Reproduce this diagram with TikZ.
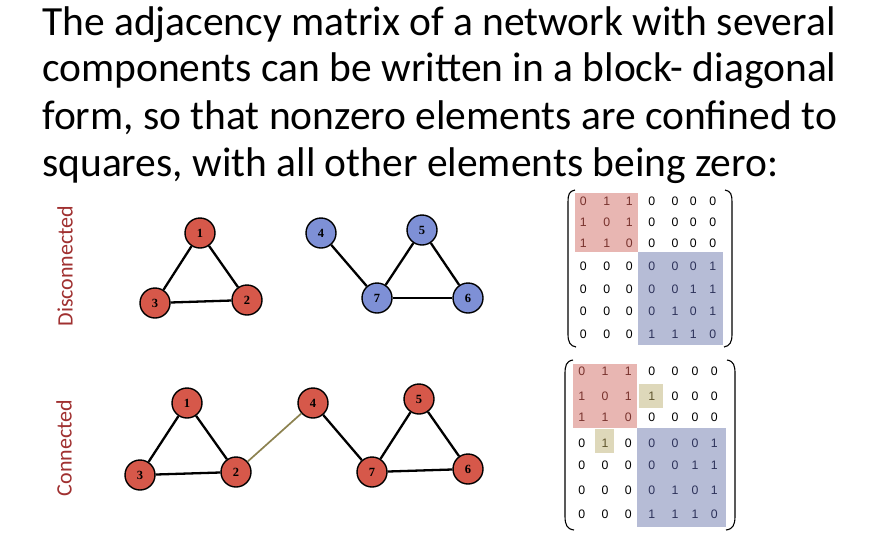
\documentclass[tikz,border=0pt]{standalone}
\usepackage{fontspec}
\setmainfont{Carlito}
\newfontfamily\numfont{Liberation Sans}
\newfontfamily\lblfont{Liberation Serif}
\definecolor{nodered}{RGB}{214,88,74}
\definecolor{nodeblue}{RGB}{126,144,214}
\definecolor{lblred}{RGB}{160,48,48}
\definecolor{blkred}{RGB}{232,182,178}
\definecolor{blkblue}{RGB}{182,188,214}
\definecolor{blkyel}{RGB}{222,216,186}
\definecolor{txred}{RGB}{120,50,45}
\definecolor{txblue}{RGB}{45,50,90}
\definecolor{txyel}{RGB}{95,85,45}
\definecolor{linkcol}{RGB}{140,130,80}
\tikzset{
  vert/.style={circle,draw=black,line width=1.4pt,minimum size=30pt,inner sep=0pt,
    font=\lblfont\bfseries\fontsize{12.5}{14}\selectfont},
  rv/.style={vert,fill=nodered},
  bv/.style={vert,fill=nodeblue},
  edge/.style={line width=2.3pt,black},
  title/.style={anchor=base west,font=\fontsize{41.5}{48}\selectfont,inner sep=0pt},
  side/.style={rotate=90,text=lblred,font=\fontsize{22}{26}\selectfont,inner sep=0pt},
  num/.style={font=\numfont\fontsize{12.3}{14}\selectfont,inner sep=0pt},
  paren/.style={line width=1.1pt,black},
}
\begin{document}
\begin{tikzpicture}[x=1pt,y=-1pt]
\useasboundingbox (0,0) rectangle (878,542);
\fill[white] (0,0) rectangle (878,542);
% title
\node[title] (t1) at (42,35) {The adjacency matrix of a network with several};
\node[title] (t2) at (42,81) {components can be written in a block- diagonal};
\node[title] (t3) at (42,129) {form, so that nonzero elements are confined to};
\node[title] (t4) at (42,176) {squares, with all other elements being zero:};
% side labels
\node[side] (ld) at (65,266) {Disconnected};
\node[side] (lc) at (64,448) {Connected};
% disconnected graph
\node[rv] (a1) at (200,233) {1};
\node[rv] (a3) at (155,303) {3};
\node[rv] (a2) at (247,300) {2};
\node[bv] (a4) at (321,233) {4};
\node[bv] (a5) at (422,230) {5};
\node[bv] (a7) at (377,298) {7};
\node[bv] (a6) at (468,298) {6};
\draw[edge] (a1) -- (a3);
\draw[edge] (a1) -- (a2);
\draw[edge] (a3) -- (a2);
\draw[edge] (a4) -- (a7);
\draw[edge] (a7) -- (a5);
\draw[edge] (a5) -- (a6);
\draw[edge] (a7) -- (a6);
% connected graph
\node[rv] (b1) at (187,403) {1};
\node[rv] (b3) at (140,475) {3};
\node[rv] (b2) at (236,472) {2};
\node[rv] (b4) at (313,403) {4};
\node[rv] (b5) at (419,399) {5};
\node[rv] (b7) at (372,472) {7};
\node[rv] (b6) at (468,469) {6};
\draw[edge] (b1) -- (b3);
\draw[edge] (b1) -- (b2);
\draw[edge] (b3) -- (b2);
\draw[line width=1.7pt,linkcol] (b2) -- (b4);
\draw[edge] (b4) -- (b7);
\draw[edge] (b7) -- (b5);
\draw[edge] (b5) -- (b6);
\draw[edge] (b7) -- (b6);
% matrix 1 blocks
\fill[blkred] (575,193) rectangle (638,252);
\fill[blkblue] (638,252) rectangle (723,345);
% matrix 1 parens
\draw[paren] (575,190) .. controls (569,191) and (568,195) .. (568,202) -- (568,334) .. controls (568,342) and (570,346) .. (576,347);
\draw[paren] (725,190) .. controls (731,191) and (732,195) .. (732,202) -- (732,334) .. controls (732,342) and (730,346) .. (724,347);
% matrix 1 entries
\foreach \r/\y/\vals in {1/201.7/{0,1,1,0,0,0,0},2/222.3/{1,0,1,0,0,0,0},3/243.3/{1,1,0,0,0,0,0},4/266.7/{0,0,0,0,0,0,1},5/289.3/{0,0,0,0,0,1,1},6/311.7/{0,0,0,0,1,0,1},7/334/{0,0,0,1,1,1,0}}{
  \foreach \v [count=\c] in \vals {
    \pgfmathsetmacro{\xx}{{583.3,606.7,629.3,651.7,675,693.3,712.7}[\c-1]}
    \ifnum\r<4 \ifnum\c<4 \def\tc{txred}\else\def\tc{black}\fi
    \else \ifnum\c>3 \def\tc{txblue}\else\def\tc{black}\fi\fi
    \node[num,text=\tc] (mA-\r-\c) at (\xx,\y) {\v};
  }
}
% matrix 2 blocks
\fill[blkred] (573,364) rectangle (637,428);
\fill[blkblue] (637,428) rectangle (726,527);
\fill[blkyel] (639,384) rectangle (663,408);
\fill[blkyel] (595,429) rectangle (614,453);
% matrix 2 parens
\draw[paren] (573,360) .. controls (566,361) and (565,366) .. (565,374) -- (565,516) .. controls (565,525) and (567,529) .. (574,530);
\draw[paren] (727,360) .. controls (734,361) and (735,366) .. (735,374) -- (735,516) .. controls (735,525) and (733,529) .. (726,530);
% matrix 2 entries
\foreach \r/\y/\vals in {1/371.7/{0,1,1,0,0,0,0},2/396.7/{1,0,1,1,0,0,0},3/417.7/{1,1,0,0,0,0,0},4/443.3/{0,1,0,0,0,0,1},5/465/{0,0,0,0,0,1,1},6/490/{0,0,0,0,1,0,1},7/514.3/{0,0,0,1,1,1,0}}{
  \foreach \v [count=\c] in \vals {
    \pgfmathsetmacro{\xx}{{581.7,605,628.3,651.7,675,695,714.3}[\c-1]}
    \ifnum\r<4 \ifnum\c<4 \def\tc{txred}\else\def\tc{black}\fi
    \else \ifnum\c>3 \def\tc{txblue}\else\def\tc{black}\fi\fi
    \ifnum\r=2 \ifnum\c=4 \def\tc{txyel}\fi\fi
    \ifnum\r=4 \ifnum\c=2 \def\tc{txyel}\fi\fi
    \node[num,text=\tc] (mB-\r-\c) at (\xx,\y) {\v};
  }
}
\end{tikzpicture}
\end{document}
